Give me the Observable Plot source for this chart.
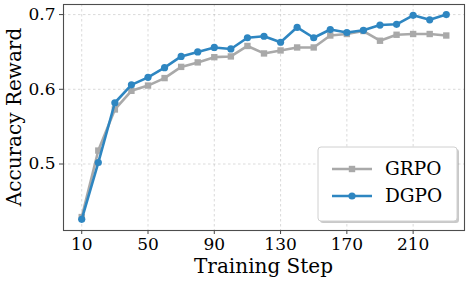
<!DOCTYPE html>
<html>
<head>
<meta charset="utf-8">
<script src="https://cdn.jsdelivr.net/npm/d3@7"></script>
<script src="https://cdn.jsdelivr.net/npm/@observablehq/plot@0.6"></script>
<style>
  html, body { margin: 0; padding: 0; background: #fff; }
  #chart svg { display: block; }
  #chart svg, #chart svg text { font-family: "DejaVu Serif", "Liberation Serif", serif !important; }
</style>
</head>
<body>
<div id="chart"></div>
<script>
const steps = [10,20,30,40,50,60,70,80,90,100,110,120,130,140,150,160,170,180,190,200,210,220,230];
const grpo = [0.429,0.518,0.573,0.598,0.605,0.615,0.630,0.636,0.643,0.644,0.658,0.648,0.652,0.656,0.656,0.672,0.674,0.678,0.665,0.673,0.674,0.674,0.672];
const dgpo = [0.426,0.502,0.582,0.606,0.616,0.629,0.644,0.650,0.656,0.654,0.669,0.671,0.663,0.683,0.669,0.680,0.676,0.679,0.686,0.687,0.699,0.693,0.700];
const xTicks = [10,50,90,130,170,210];
const yTicks = [0.5,0.6,0.7];
const seriesNames = ["GRPO","DGPO"];
const colors = {GRPO: "#a9a9a9", DGPO: "#2e86c1"};

const data = [];
steps.forEach((s,i) => {
  data.push({step: s, value: grpo[i], series: "GRPO"});
  data.push({step: s, value: dgpo[i], series: "DGPO"});
});
const gData = data.filter(d => d.series === "GRPO");
const dData = data.filter(d => d.series === "DGPO");

const W = 471, H = 281;
const mL = 63, mR = 7, mT = 4, mB = 51;
const font = "DejaVu Serif, Liberation Serif, serif";

const plot = Plot.plot({
  width: W, height: H,
  marginLeft: mL, marginRight: mR, marginTop: mT, marginBottom: mB,
  style: {fontFamily: font, fontSize: "17px", color: "#000", background: "#fff"},
  x: {domain: [-1, 241], label: null},
  y: {domain: [0.411, 0.7135], label: null},
  marks: [
    Plot.gridX(xTicks, {stroke: "#b0b0b0", strokeOpacity: 0.6, strokeDasharray: "2.5,2.5", strokeWidth: 0.8}),
    Plot.gridY(yTicks, {stroke: "#b0b0b0", strokeOpacity: 0.6, strokeDasharray: "2.5,2.5", strokeWidth: 0.8}),
    Plot.line(gData, {x: "step", y: "value", stroke: colors.GRPO, strokeWidth: 2.6}),
    Plot.dot(gData, {x: "step", y: "value", symbol: "square", r: 3.6, fill: colors.GRPO, stroke: "none"}),
    Plot.line(dData, {x: "step", y: "value", stroke: colors.DGPO, strokeWidth: 2.6}),
    Plot.dot(dData, {x: "step", y: "value", r: 3.6, fill: colors.DGPO, stroke: "none"}),
    Plot.axisX({ticks: xTicks, tickSize: 4, tickPadding: 3, stroke: "#444", label: null}),
    Plot.axisY({ticks: yTicks, tickFormat: ".1f", tickSize: 4, tickPadding: 4, stroke: "#444", label: null}),
    Plot.frame({stroke: "#4d4d4d", strokeWidth: 1.1})
  ]
});

const svg = d3.select(plot);
// axis labels
svg.append("text")
  .attr("x", (mL + W - mR) / 2).attr("y", 273)
  .attr("text-anchor", "middle")
  .attr("font-size", 20).attr("fill", "#000")
  .text("Training Step");
svg.append("text")
  .attr("transform", `translate(21,${(mT + H - mB) / 2}) rotate(-90)`)
  .attr("text-anchor", "middle")
  .attr("font-size", 20).attr("fill", "#000")
  .text("Accuracy Reward");

// legend
const lg = svg.append("g");
const lx = 318, ly = 147, lw = 139, lh = 74;
lg.append("rect").attr("x", lx + 2).attr("y", ly + 2).attr("width", lw).attr("height", lh)
  .attr("rx", 3).attr("fill", "#888").attr("fill-opacity", 0.45);
lg.append("rect").attr("x", lx).attr("y", ly).attr("width", lw).attr("height", lh)
  .attr("rx", 3).attr("fill", "#fff").attr("stroke", "#d0d0d0").attr("stroke-width", 1);
seriesNames.forEach((name, i) => {
  const yy = ly + 22 + i * 27;
  lg.append("line").attr("x1", 332).attr("x2", 372).attr("y1", yy).attr("y2", yy)
    .attr("stroke", colors[name]).attr("stroke-width", 2.6);
  if (name === "GRPO") {
    lg.append("rect").attr("x", 352 - 3.2).attr("y", yy - 3.2).attr("width", 6.4).attr("height", 6.4).attr("fill", colors[name]);
  } else {
    lg.append("circle").attr("cx", 352).attr("cy", yy).attr("r", 3.6).attr("fill", colors[name]);
  }
  lg.append("text").attr("x", 385).attr("y", yy).attr("dy", "0.35em")
    .attr("text-anchor", "start")
    .attr("font-size", 18.5).attr("fill", "#000")
    .text(name);
});

document.getElementById("chart").appendChild(plot);
</script>
</body>
</html>
